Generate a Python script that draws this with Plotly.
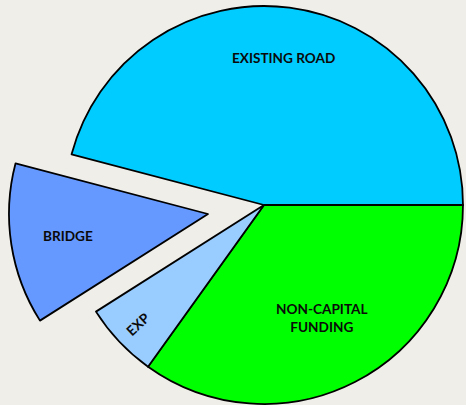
import math
import plotly.graph_objects as go

# ---- data (clockwise from 3 o'clock) ----
labels = ["NON-CAPITAL FUNDING", "EXP", "BRIDGE", "EXISTING ROAD"]
display_text = ["NON-CAPITAL<br>FUNDING", "EXP", "BRIDGE", "EXISTING ROAD"]
values = [34.9, 6.1, 13.1, 45.9]
colors = ["#00FF00", "#99CCFF", "#6699FF", "#00CCFF"]
exploded = [False, False, True, False]

# ---- layout geometry ----
W, H = 466, 414  # figure is a little taller than the window; bottom strip unseen
START = 90  # degrees clockwise from 12 o'clock -> 3 o'clock
main_dom = dict(x=[0.1365, 0.9965], y=[0.02415, 0.98551])
bridge_dom = dict(x=[0.01635, 0.87635], y=[0.00242, 0.96377])
label_frac = [0.64, 0.87, 0.71, 0.745]

NONE = "rgba(0,0,0,0)"
EDGE = "#000000"
BG = "#F0EEE9"
LW = 1.8

fig = go.Figure()
fig.add_trace(go.Pie(
    labels=labels, values=values, sort=False, direction="clockwise",
    rotation=START, domain=main_dom, textinfo="none", hoverinfo="label+percent",
    marker=dict(colors=[NONE if e else c for c, e in zip(colors, exploded)],
                line=dict(color=EDGE, width=[0 if e else LW for e in exploded])),
    showlegend=False,
))
fig.add_trace(go.Pie(
    labels=labels, values=values, sort=False, direction="clockwise",
    rotation=START, domain=bridge_dom, textinfo="none", hoverinfo="label+percent",
    marker=dict(colors=[c if e else NONE for c, e in zip(colors, exploded)],
                line=dict(color=EDGE, width=[LW if e else 0 for e in exploded])),
    showlegend=False,
))

# label positions derived from the slice angles
def dom_center(dom):
    cx = W * (dom["x"][0] + dom["x"][1]) / 2
    cy = H * (2 - dom["y"][0] - dom["y"][1]) / 2
    r = min(W * (dom["x"][1] - dom["x"][0]), H * (dom["y"][1] - dom["y"][0])) / 2
    return cx, cy, r

total = sum(values)
acc = 0.0
for i, v in enumerate(values):
    mid = START + (acc + v / 2) / total * 360  # clockwise from 12 o'clock
    acc += v
    cx, cy, r = dom_center(bridge_dom if exploded[i] else main_dom)
    rad = math.radians(mid)
    px = cx + label_frac[i] * r * math.sin(rad)
    py = cy - label_frac[i] * r * math.cos(rad)
    ang = (mid - 270) if v / total < 0.08 else 0
    fig.add_annotation(
        x=px / W, y=1 - py / H, xref="paper", yref="paper",
        text="<b>" + display_text[i] + "</b>", showarrow=False, textangle=ang,
        font=dict(family="Lato, 'Open Sans', sans-serif", size=13.6, color="#0A0A0A"),
        xanchor="center", yanchor="middle",
    )

fig.update_layout(
    width=W, height=H, margin=dict(l=0, r=0, t=0, b=0),
    paper_bgcolor=BG, plot_bgcolor=BG,
)
fig.write_html(
    "out.html",
    config={"displayModeBar": False},
    post_script="document.body.style.margin='0';document.body.style.overflow='hidden';"
                "document.body.style.background='" + BG + "';",
)
